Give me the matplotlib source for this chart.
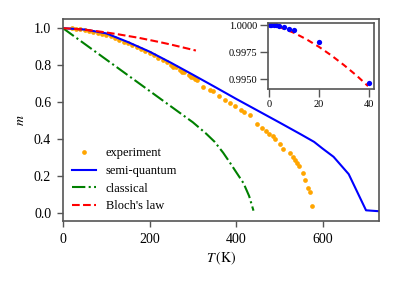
import matplotlib
matplotlib.use("Agg")
import matplotlib.pyplot as plt
from matplotlib.ticker import FormatStrFormatter

plt.rcParams['font.family'] = ['Liberation Serif', 'DejaVu Serif']
plt.rcParams['mathtext.fontset'] = 'stix'

# experiment (orange dots)
exp_t = [20, 30, 40, 50, 60, 70, 80, 90, 100, 110, 120, 130, 140, 150, 160,
         170, 180, 190, 200, 210, 220, 230, 240, 250, 255, 260, 270, 275, 280,
         290, 295, 300, 305, 310,
         324, 340, 347, 361, 374, 386, 398, 411, 417, 431, 449, 459, 469, 477,
         484, 490, 502, 509, 525, 531, 536, 540, 546, 555, 560, 566, 570, 576]
exp_m = [0.999, 0.997, 0.994, 0.989, 0.984, 0.979, 0.974, 0.969, 0.965, 0.957,
         0.947, 0.938, 0.928, 0.919, 0.909, 0.898, 0.887, 0.876, 0.866, 0.854,
         0.841, 0.828, 0.815, 0.802, 0.790, 0.789, 0.775, 0.764, 0.762,
         0.749, 0.737, 0.735, 0.724, 0.722,
         0.684, 0.666, 0.657, 0.634, 0.612, 0.595, 0.576, 0.558, 0.548, 0.530,
         0.483, 0.459, 0.441, 0.428, 0.414, 0.400, 0.375, 0.348, 0.321, 0.303,
         0.285, 0.270, 0.252, 0.213, 0.177, 0.135, 0.114, 0.038]

# semi-quantum (blue line)
sq_t = [0, 50, 100, 150, 200, 250, 300, 350, 400, 450, 500, 550, 580, 600, 625, 660, 700, 730]
sq_m = [1.0, 0.993, 0.972, 0.925, 0.873, 0.812, 0.748, 0.683, 0.617, 0.553, 0.489,
        0.424, 0.384, 0.347, 0.303, 0.209, 0.013, 0.008]

# classical (green dash-dot)
cl_t = [0, 50, 100, 150, 200, 250, 300, 330, 350, 370, 386, 400, 417, 430, 440]
cl_m = [1.0, 0.915, 0.830, 0.745, 0.660, 0.575, 0.490, 0.430, 0.385, 0.325,
        0.270, 0.220, 0.160, 0.090, 0.011]

# Bloch's law (red dashed)
bl_t = [0, 25, 50, 75, 100, 125, 150, 175, 200, 225, 250, 275, 307]
bl_m = [1.0, 0.997, 0.992, 0.985, 0.977, 0.968, 0.958, 0.948, 0.936, 0.924,
        0.911, 0.897, 0.879]

# inset: low temperature
ins_t = [0.5, 1, 2, 3, 4, 6, 8, 10, 20, 40]
ins_m = [1.0, 1.0, 0.99999, 0.99996, 0.99991, 0.99982, 0.99966, 0.99951, 0.99841, 0.99464]
ins_bl_t = [0, 5, 10, 15, 20, 25, 30, 35, 39.5]
ins_bl_m = [1.0, 0.99975, 0.99929, 0.99869, 0.99799, 0.99719, 0.99630, 0.99534, 0.99438]

spine_color = '#555555'

fig = plt.figure(figsize=(3.98, 2.81), dpi=100)
ax = fig.add_axes([0.1583, 0.2135, 0.794, 0.7189])

ax.plot(exp_t, exp_m, 'o', color='orange', ms=3.4, mew=0, label='experiment')
ax.plot(sq_t, sq_m, '-', color='blue', lw=1.5, label='semi-quantum')
ax.plot(cl_t, cl_m, '-.', color='green', lw=1.5, label='classical')
ax.plot(bl_t, bl_m, '--', color='red', lw=1.5, label="Bloch's law")

ax.set_xlim(0, 730)
ax.set_ylim(-0.045, 1.05)
ax.set_xticks([0, 200, 400, 600])
ax.set_yticks([0.0, 0.2, 0.4, 0.6, 0.8, 1.0])
ax.set_xlabel(r'$T\,(\mathrm{K})$', fontsize=10, labelpad=3)
ax.set_ylabel(r'$m$', fontsize=10, labelpad=5)
ax.tick_params(labelsize=10, direction='out', length=4, width=1, color=spine_color, pad=4.5)
for s in ax.spines.values():
    s.set_color(spine_color)
    s.set_linewidth(1.2)

ax.legend(loc='lower left', bbox_to_anchor=(0.0, 0.0), frameon=False,
          fontsize=9, handlelength=1.9, handletextpad=0.8, borderpad=0.2,
          labelspacing=0.45)

# inset
axi = fig.add_axes([0.674, 0.682, 0.2665, 0.235])
axi.plot(ins_bl_t, ins_bl_m, '--', color='red', lw=1.5, dashes=(3, 2))
axi.plot(ins_t, ins_m, 'o', color='blue', ms=3.8, mew=0)
axi.set_xlim(-0.2, 42)
axi.set_ylim(0.99408, 1.00016)
axi.set_xticks([0, 20, 40])
axi.set_yticks([0.995, 0.9975, 1.0])
axi.yaxis.set_major_formatter(FormatStrFormatter('%.4f'))
axi.tick_params(labelsize=7.5, direction='out', length=5.5, width=1, color=spine_color, pad=2.5)
for s in axi.spines.values():
    s.set_color(spine_color)
    s.set_linewidth(1.2)

fig.savefig('out.png', dpi=100)
